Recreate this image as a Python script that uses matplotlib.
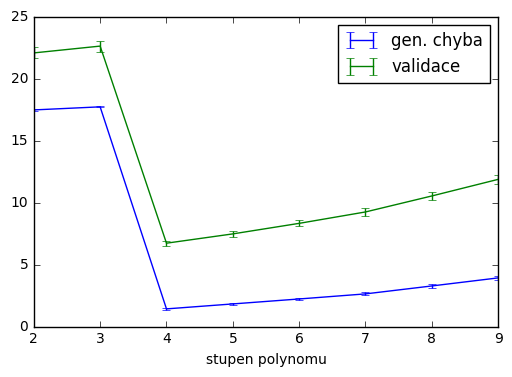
import matplotlib
matplotlib.use('Agg')
import matplotlib.pyplot as plt

stupne = [2, 3, 4, 5, 6, 7, 8, 9]
gen_chyba = [17.5, 17.75, 1.45, 1.85, 2.25, 2.66, 3.3, 3.95]
gen_err = [0.05, 0.05, 0.08, 0.08, 0.1, 0.13, 0.13, 0.15]
validace = [22.1, 22.65, 6.75, 7.5, 8.35, 9.27, 10.56, 11.9]
val_err = [0.45, 0.45, 0.2, 0.22, 0.25, 0.3, 0.3, 0.35]

plt.style.use('classic')
fig = plt.figure(figsize=(5.12, 3.77), dpi=100)
ax = fig.add_axes([0.066, 0.133, 0.907, 0.822])

ax.errorbar(stupne, gen_chyba, yerr=gen_err, color='b', label='gen. chyba')
ax.errorbar(stupne, validace, yerr=val_err, color='g', label='validace')
ax.set_xlabel("stupen polynomu", fontsize=10)
ax.set_xlim(2, 9)
ax.set_ylim(0, 25)
ax.tick_params(labelsize=10)
ax.legend(loc='upper right', fontsize=12)

fig.savefig('out.png', dpi=100)
